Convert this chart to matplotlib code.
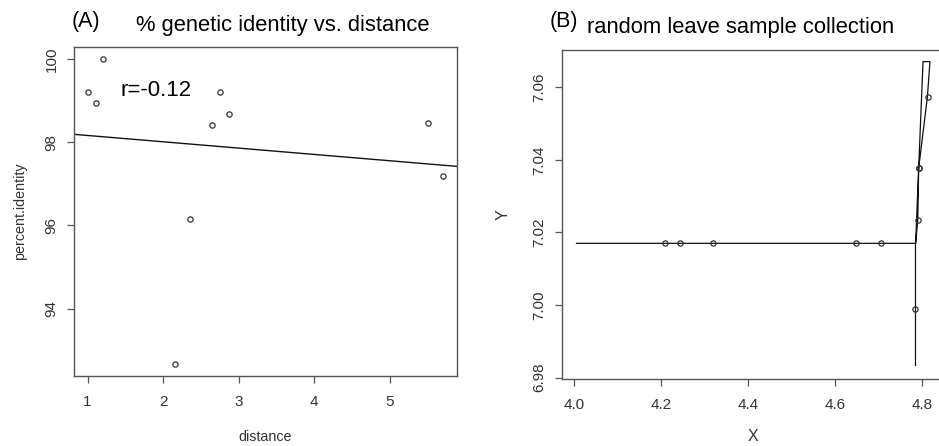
import matplotlib

matplotlib.use("Agg")
import matplotlib.pyplot as plt

plt.rcParams["font.family"] = ["Liberation Sans", "DejaVu Sans"]

# panel A: distance vs percent identity
distance = [1.01, 1.115, 1.21, 2.16, 2.35, 2.65, 2.75, 2.87, 5.50, 5.70]
identity = [99.20, 98.94, 100.0, 92.67, 96.16, 98.41, 99.20, 98.67, 98.46, 97.20]
fit_intercept = 98.315
fit_slope = -0.152

# panel B: random leave sample collection
samp_x = [4.208, 4.242, 4.320, 4.6475, 4.705, 4.783, 4.790, 4.792, 4.792, 4.813]
samp_y = [7.017, 7.017, 7.017, 7.017, 7.017, 6.9989, 7.0235, 7.0377, 7.0377, 7.0573]
path_x = [4.005, 4.785, 4.802, 4.818, 4.812, 4.792, 4.790, 4.785]
path_y = [7.017, 7.017, 7.0671, 7.0671, 7.0573, 7.0377, 7.0235, 7.017]
drop_x = [4.784, 4.784]
drop_y = [6.9834, 7.017]

TXT = "#333333"
FRAME = "#555555"


def style(ax):
    for s in ax.spines.values():
        s.set_color(FRAME)
        s.set_linewidth(1.0)
    ax.tick_params(direction="out", length=5, width=0.9, color=FRAME,
                   labelsize=11, labelcolor=TXT, pad=6)
    ax.tick_params(axis="x", pad=9)
    for lab in ax.get_yticklabels():
        lab.set_rotation(90)
        lab.set_va("center")


fig = plt.figure(figsize=(9.39, 4.46), dpi=100)

# ---- (A) ----
ax1 = fig.add_axes([0.0788, 0.157, 0.4079, 0.7376])
ax1.plot(distance, identity, "o", mfc="none", mec="#333333", ms=3.8, mew=0.9)
ax1.axline((0, fit_intercept), slope=fit_slope, color="#111111", lw=1.0)
ax1.set_xlim(0.82, 5.89)
ax1.set_ylim(92.38, 100.29)
ax1.set_xticks([1, 2, 3, 4, 5])
ax1.set_yticks([94, 96, 98, 100])
ax1.set_xlabel("distance", fontsize=10.3, color=TXT, labelpad=15)
ax1.set_ylabel("percent.identity", fontsize=10.3, color=TXT, labelpad=13)
ax1.text(1.43, 99.25, "r=-0.12", fontsize=16, va="center", ha="left")
style(ax1)
fig.text(72 / 939, 1 - 21 / 446, "(A)", fontsize=15.5, va="center", ha="left")
fig.text(283 / 939, 1 - 25 / 446, "% genetic identity vs. distance",
         fontsize=15.8, va="center", ha="center")

# ---- (B) ----
ax2 = fig.add_axes([0.5982, 0.1502, 0.407, 0.7377])
ax2.plot(path_x, path_y, color="#111111", lw=0.9)
ax2.plot(drop_x, drop_y, color="#111111", lw=0.9)
ax2.plot(samp_x, samp_y, "o", mfc="none", mec="#333333", ms=3.8, mew=0.9)
ax2.set_xlim(3.971, 4.85)
ax2.set_ylim(6.9796, 7.0703)
ax2.set_xticks([4.0, 4.2, 4.4, 4.6, 4.8])
ax2.set_xticklabels(["4.0", "4.2", "4.4", "4.6", "4.8"])
ax2.set_yticks([6.98, 7.00, 7.02, 7.04, 7.06])
ax2.set_yticklabels(["6.98", "7.00", "7.02", "7.04", "7.06"])
ax2.set_xlabel("X", fontsize=11.5, color=TXT, labelpad=12)
ax2.set_ylabel("Y", fontsize=11.5, color=TXT, labelpad=16)
style(ax2)
fig.text(550 / 939, 1 - 21 / 446, "(B)", fontsize=15.5, va="center", ha="left")
fig.text(741 / 939, 1 - 27 / 446, "random leave sample collection",
         fontsize=15.8, va="center", ha="center")

fig.savefig("out.png", dpi=100)
